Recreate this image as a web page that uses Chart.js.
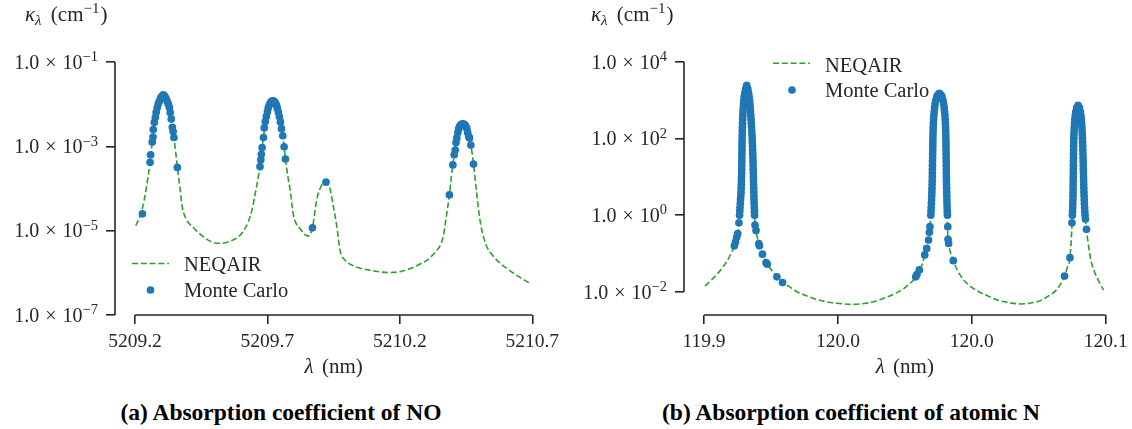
<!DOCTYPE html>
<html>
<head>
<meta charset="utf-8">
<script src="https://cdn.jsdelivr.net/npm/chart.js@4.4.1/dist/chart.umd.min.js"></script>
<style>
  html, body { margin: 0; padding: 0; background: #fff; }
  body { width: 1132px; height: 429px; position: relative; overflow: hidden; }
  canvas { position: absolute; top: 0; }
  .cap {
    position: absolute; top: 398px; width: 420px;
    font-family: "Liberation Serif", "Times New Roman", serif;
    font-weight: bold; font-size: 23.5px; line-height: 28px;
    text-align: center; color: #000; white-space: nowrap;
  }
</style>
</head>
<body>
<canvas id="chartNO" width="566" height="390" style="left:0"></canvas>
<canvas id="chartN" width="566" height="390" style="left:566px"></canvas>
<div class="cap" style="left:71px">(a) Absorption coefficient of NO</div>
<div class="cap" style="left:641px">(b) Absorption coefficient of atomic N</div>
<script>
/* ==============================
   Data: (a) NO
============================== */
const noXTicks = [5209.2, 5209.7, 5210.2, 5210.7];
const noYTicks = [1e-7, 1e-5, 1e-3, 1e-1];

const noNeqairLambda = [
  5209.203, 5209.219, 5209.234, 5209.245, 5209.257, 5209.264, 5209.269, 5209.276, 5209.283, 5209.291,
  5209.298, 5209.307, 5209.315, 5209.323, 5209.330, 5209.338, 5209.344, 5209.347, 5209.353, 5209.360,
  5209.370, 5209.378, 5209.393, 5209.419, 5209.457, 5209.491, 5209.525, 5209.559, 5209.589, 5209.608,
  5209.627, 5209.642, 5209.653, 5209.665, 5209.672, 5209.677, 5209.680, 5209.685, 5209.692, 5209.702,
  5209.711, 5209.720, 5209.730, 5209.739, 5209.749, 5209.758, 5209.763, 5209.768, 5209.778, 5209.785,
  5209.797, 5209.810, 5209.823, 5209.838, 5209.854, 5209.870, 5209.886, 5209.905, 5209.921, 5209.936,
  5209.949, 5209.962, 5209.974, 5209.993, 5210.023, 5210.050, 5210.106, 5210.155, 5210.201, 5210.239,
  5210.273, 5210.303, 5210.325, 5210.341, 5210.356, 5210.365, 5210.371, 5210.377, 5210.387, 5210.393,
  5210.400, 5210.405, 5210.409, 5210.415, 5210.424, 5210.434, 5210.441, 5210.451, 5210.460, 5210.468,
  5210.478, 5210.490, 5210.499, 5210.509, 5210.518, 5210.528, 5210.552, 5210.578, 5210.605, 5210.629,
  5210.662, 5210.692
];
const noNeqairK = [
  1.32e-5, 2.24e-5, 5.01e-5, 1.26e-4, 4.17e-4, 1.12e-3, 2.51e-3, 4.47e-3, 7.94e-3, 1.12e-2,
  1.45e-2, 1.66e-2, 1.45e-2, 1.12e-2, 7.94e-3, 3.98e-3, 2.40e-3, 1.62e-3, 7.94e-4, 3.16e-4,
  1.0e-4, 3.72e-5, 1.91e-5, 1.20e-5, 7.24e-6, 5.37e-6, 5.01e-6, 5.62e-6, 7.08e-6, 9.55e-6,
  1.58e-5, 3.16e-5, 7.08e-5, 1.78e-4, 3.31e-4, 6.46e-4, 9.33e-4, 1.62e-3, 3.89e-3, 7.41e-3,
  1.07e-2, 1.20e-2, 1.07e-2, 7.41e-3, 3.80e-3, 1.78e-3, 9.77e-4, 5.01e-4, 1.78e-4, 1.0e-4,
  2.57e-5, 1.41e-5, 1.12e-5, 8.32e-6, 7.41e-6, 1.17e-5, 5.37e-5, 1.20e-4, 1.41e-4, 1.0e-4,
  3.72e-5, 1.26e-5, 3.47e-6, 2.0e-6, 1.48e-6, 1.29e-6, 1.10e-6, 1.02e-6, 1.07e-6, 1.26e-6,
  1.58e-6, 2.0e-6, 2.69e-6, 3.47e-6, 5.01e-6, 7.94e-6, 1.41e-5, 2.51e-5, 7.08e-5, 1.58e-4,
  3.63e-4, 6.31e-4, 8.13e-4, 1.58e-3, 2.82e-3, 3.39e-3, 3.39e-3, 2.82e-3, 1.70e-3, 1.07e-3,
  3.80e-4, 7.76e-5, 2.51e-5, 1.05e-5, 6.31e-6, 4.17e-6, 2.51e-6, 1.70e-6, 1.26e-6, 9.77e-7,
  7.24e-7, 5.62e-7
];

const noMcLambda = [
  5209.228, 5209.257, 5209.259, 5209.265, 5209.268, 5209.269, 5209.273, 5209.277, 5209.280, 5209.284,
  5209.288, 5209.292, 5209.296, 5209.299, 5209.303, 5209.307, 5209.311, 5209.314, 5209.318, 5209.322,
  5209.326, 5209.330, 5209.333, 5209.337, 5209.341, 5209.344, 5209.347, 5209.360,
  5209.672, 5209.675, 5209.677, 5209.680, 5209.685, 5209.688, 5209.692, 5209.696, 5209.700, 5209.703,
  5209.707, 5209.711, 5209.715, 5209.719, 5209.722, 5209.726, 5209.730, 5209.734, 5209.737, 5209.741,
  5209.745, 5209.749, 5209.753, 5209.758, 5209.763, 5209.768,
  5209.870, 5209.921,
  5210.387, 5210.400, 5210.405, 5210.409, 5210.412, 5210.415, 5210.419, 5210.422, 5210.426, 5210.430,
  5210.434, 5210.438, 5210.441, 5210.445, 5210.449, 5210.453, 5210.456, 5210.460, 5210.463, 5210.468,
  5210.478
];
const noMcK = [
  2.51e-5, 4.17e-4, 6.31e-4, 1.26e-3, 1.66e-3, 2.51e-3, 3.72e-3, 4.90e-3, 6.46e-3, 8.32e-3,
  1.02e-2, 1.17e-2, 1.35e-2, 1.48e-2, 1.58e-2, 1.66e-2, 1.58e-2, 1.48e-2, 1.32e-2, 1.15e-2,
  1.0e-2, 8.32e-3, 6.31e-3, 4.47e-3, 2.82e-3, 2.24e-3, 1.62e-3, 3.16e-4,
  3.31e-4, 4.79e-4, 6.46e-4, 9.33e-4, 1.62e-3, 2.75e-3, 3.89e-3, 5.13e-3, 6.61e-3, 8.13e-3,
  9.55e-3, 1.07e-2, 1.15e-2, 1.20e-2, 1.20e-2, 1.15e-2, 1.07e-2, 9.55e-3, 8.13e-3, 6.61e-3,
  5.13e-3, 3.80e-3, 2.63e-3, 1.78e-3, 9.77e-4, 5.01e-4,
  1.17e-5, 1.41e-4,
  7.08e-5, 3.63e-4, 6.31e-4, 8.13e-4, 1.23e-3, 1.58e-3, 2.14e-3, 2.63e-3, 3.02e-3, 3.24e-3,
  3.39e-3, 3.39e-3, 3.39e-3, 3.24e-3, 3.02e-3, 2.63e-3, 2.14e-3, 1.70e-3, 1.58e-3, 1.07e-3,
  3.80e-4
];

/* ==============================
   Data: (b) atomic N
============================== */
const nXTicks = [119.9, 119.9667, 120.0333, 120.1];
const nYTicks = [1e-2, 1, 1e2, 1e4];

const nNeqairLambda = [
  119.9005, 119.9040, 119.9080, 119.9118, 119.9139, 119.9154, 119.9168, 119.9176, 119.9179, 119.9187,
  119.9190, 119.9193, 119.9198, 119.9204, 119.9213, 119.9221, 119.9227, 119.9233, 119.9240, 119.9246,
  119.9250, 119.9254, 119.9264, 119.9275, 119.9290, 119.9309, 119.9334, 119.9365, 119.9392, 119.9428,
  119.9463, 119.9508, 119.9553, 119.9607, 119.9662, 119.9745, 119.9807, 119.9846, 119.9901, 119.9954,
  119.9991, 120.0026, 120.0051, 120.0072, 120.0085, 120.0099, 120.0110, 120.0118, 120.0125, 120.0132,
  120.0137, 120.0140, 120.0144, 120.0150, 120.0160, 120.0172, 120.0184, 120.0194, 120.0200, 120.0203,
  120.0206, 120.0210, 120.0213, 120.0218, 120.0227, 120.0241, 120.0260, 120.0281, 120.0314, 120.0354,
  120.0409, 120.0463, 120.0524, 120.0581, 120.0633, 120.0681, 120.0718, 120.0754, 120.0777, 120.0795,
  120.0810, 120.0822, 120.0830, 120.0834, 120.0838, 120.0841, 120.0845, 120.0851, 120.0863, 120.0874,
  120.0881, 120.0886, 120.0890, 120.0894, 120.0898, 120.0904, 120.0912, 120.0926, 120.0942, 120.0962,
  120.0990
];
const nNeqairK = [
  1.41e-2, 2.09e-2, 3.55e-2, 6.76e-2, 0.112, 0.166, 0.331, 0.794, 2.0, 10,
  100, 398, 1000, 1778, 2455, 1778, 1000, 398, 100, 10,
  1.58, 0.550, 0.282, 0.174, 0.1, 6.03e-2, 3.80e-2, 2.45e-2, 1.78e-2, 1.32e-2,
  1.0e-2, 7.94e-3, 6.46e-3, 5.50e-3, 5.01e-3, 4.68e-3, 5.01e-3, 5.50e-3, 6.92e-3, 9.12e-3,
  1.17e-2, 1.66e-2, 2.24e-2, 3.47e-2, 5.01e-2, 8.71e-2, 0.141, 0.224, 0.501, 2.0,
  10, 100, 316, 794, 1259, 1514, 1259, 794, 316, 100,
  10, 2.0, 0.398, 0.182, 0.107, 6.46e-2, 3.80e-2, 2.45e-2, 1.58e-2, 1.10e-2,
  7.94e-3, 6.03e-3, 5.13e-3, 4.79e-3, 5.13e-3, 6.03e-3, 7.94e-3, 1.10e-2, 1.66e-2, 2.57e-2,
  4.47e-2, 7.76e-2, 0.316, 1.0, 10, 100, 251, 501, 741, 501,
  251, 100, 10, 2.0, 1.0, 0.427, 0.2, 6.76e-2, 3.55e-2, 2.04e-2,
  1.10e-2
];

const nMcLambda = [
  // first line, lower left
  119.9151, 119.9157, 119.9163, 119.9168, 119.9174,
  // first line, rising side
  119.91772, 119.91782, 119.91792, 119.91807, 119.91817, 119.91832, 119.91842, 119.91852, 119.91857, 119.91862,
  119.91867, 119.91872, 119.91877, 119.91880, 119.91882, 119.91885, 119.91887, 119.91890, 119.91892, 119.91894,
  119.91897, 119.91902, 119.91907, 119.91912, 119.91917, 119.91924, 119.91932, 119.91942, 119.91952, 119.91967,
  119.91982, 119.92006, 119.92036, 119.92071, 119.92126,
  // first line, falling side
  119.92181, 119.92216, 119.92245, 119.92270, 119.92288, 119.92300, 119.92315, 119.92330, 119.92343, 119.92355,
  119.92367, 119.92380, 119.92390, 119.92400, 119.92407, 119.92415, 119.92422, 119.92430, 119.92435, 119.92440,
  119.92445, 119.92450, 119.92455, 119.92460, 119.92465, 119.92470, 119.92474, 119.92479, 119.92484, 119.92489,
  119.92497, 119.92504, 119.92512, 119.92519,
  // first line, lower right
  119.9254, 119.9259, 119.9273, 119.9276, 119.9291, 119.9309, 119.9315, 119.9363, 119.9391,
  // second line, lower left
  120.0054, 120.0060, 120.0072, 120.0099, 120.0109, 120.0118, 120.0122, 120.0125,
  // second line, rising side
  120.01292, 120.01302, 120.01312, 120.01322, 120.01332, 120.01339, 120.01347, 120.01352, 120.01357, 120.01362,
  120.01367, 120.01369, 120.01372, 120.01374, 120.01377, 120.01382, 120.01384, 120.01387, 120.01392, 120.01394,
  120.01397, 120.01402, 120.01406, 120.01414, 120.01421, 120.01431, 120.01444, 120.01461, 120.01481, 120.01506,
  120.01541, 120.01596, 120.01655, 120.01720,
  // second line, falling side
  120.01785, 120.01845, 120.01899, 120.01934, 120.01959, 120.01979, 120.01996, 120.02009, 120.02019, 120.02026,
  120.02034, 120.02039, 120.02044, 120.02046, 120.02049, 120.02051, 120.02054, 120.02056, 120.02059, 120.02061,
  120.02064, 120.02066, 120.02069, 120.02071, 120.02074, 120.02079, 120.02084, 120.02089, 120.02094, 120.02099,
  120.02104, 120.02111, 120.02118, 120.02138,
  // second line, lower right
  120.0215, 120.0218, 120.0241,
  // third line, lower left
  120.0795, 120.0822, 120.0832,
  // third line, rising side
  120.08342, 120.08349, 120.08357, 120.08362, 120.08367, 120.08372, 120.08374, 120.08377, 120.08379, 120.08382,
  120.08384, 120.08387, 120.08389, 120.08392, 120.08394, 120.08397, 120.08399, 120.08402, 120.08404, 120.08407,
  120.08412, 120.08419, 120.08427, 120.08437, 120.08449, 120.08464, 120.08484, 120.08511, 120.08556, 120.08626,
  // third line, falling side
  120.08695, 120.08740, 120.08768, 120.08788, 120.08802, 120.08815, 120.08825, 120.08835, 120.08842, 120.08850,
  120.08857, 120.08862, 120.08867, 120.08872, 120.08877, 120.08882, 120.08887, 120.08892, 120.08897, 120.08902,
  120.08907, 120.08912, 120.08917, 120.08924, 120.08932, 120.08939, 120.08949, 120.08959, 120.08974, 120.08989,
  // third line, lower right
  120.0904
];
const nMcK = [
  0.158, 0.2, 0.269, 0.331, 0.631,
  1.0, 1.26, 1.58, 2.0, 2.51, 3.16, 3.98, 5.01, 6.31, 7.94,
  10, 12.6, 15.8, 20.0, 25.1, 31.6, 39.8, 50.1, 63.1, 79.4,
  100, 126, 158, 200, 251, 316, 398, 501, 631, 794,
  1000, 1259, 1585, 1995, 2455,
  1995, 1585, 1259, 1000, 794, 631, 501, 398, 316, 251,
  200, 158, 126, 100, 79.4, 63.1, 50.1, 39.8, 31.6, 25.1,
  20.0, 15.8, 12.6, 10, 7.94, 6.31, 5.01, 3.98, 3.16, 2.51,
  2.0, 1.58, 1.26, 1.0,
  0.55, 0.398, 0.182, 0.158, 0.0955, 0.0575, 0.0525, 0.0245, 0.0174,
  0.0245, 0.0282, 0.0372, 0.0912, 0.135, 0.224, 0.355, 0.501,
  1.0, 1.26, 1.58, 2.0, 2.51, 3.16, 3.98, 5.01, 6.31, 7.94,
  10, 12.6, 15.8, 20.0, 25.1, 31.6, 39.8, 50.1, 63.1, 79.4,
  100, 126, 158, 200, 251, 316, 398, 501, 631, 794,
  1000, 1259, 1413, 1514,
  1413, 1259, 1000, 794, 631, 501, 398, 316, 251, 200,
  158, 126, 100, 79.4, 63.1, 50.1, 39.8, 31.6, 25.1, 20.0,
  15.8, 12.6, 10, 7.94, 6.31, 5.01, 3.98, 3.16, 2.51, 2.0,
  1.58, 1.26, 1.0, 0.501,
  0.234, 0.182, 0.0646,
  0.0257, 0.0776, 0.631,
  1.0, 1.26, 1.58, 2.0, 2.51, 3.16, 3.98, 5.01, 6.31, 7.94,
  10, 12.6, 15.8, 20.0, 25.1, 31.6, 39.8, 50.1, 63.1, 79.4,
  100, 126, 158, 200, 251, 316, 398, 501, 631, 741,
  631, 501, 398, 316, 251, 200, 158, 126, 100, 79.4,
  63.1, 50.1, 39.8, 31.6, 25.1, 20.0, 15.8, 12.6, 10, 7.94,
  6.31, 5.01, 3.98, 3.16, 2.51, 2.0, 1.58, 1.26, 1.0, 0.794,
  0.427
];

/* ==============================
   Style
============================== */
const SERIF = '"Liberation Serif", "Times New Roman", serif';
const INK = '#262626';
const GREEN = '#2ca02c';
const BLUE = '#1f77b4';
const DASH = [6, 2.8];
const DOT_R = 3.85;

/* ==============================
   Helpers
============================== */
function toPoints(xs, ys) {
    return xs.map((x, i) => ({ x, y: ys[i] }));
}

function fontOf(r) {
    return `${r.italic ? 'italic ' : ''}${r.size || 20}px ${SERIF}`;
}

// draw a row of text pieces (for sub/superscripts)
function drawRuns(ctx, runs, x, y, align) {
    let total = 0;
    runs.forEach(r => {
        ctx.font = fontOf(r);
        r.w = ctx.measureText(r.t).width + (r.padL || 0) + (r.padR || 0);
        total += r.w;
    });
    let cx = align === 'right' ? x - total : align === 'center' ? x - total / 2 : x;
    runs.forEach(r => {
        ctx.font = fontOf(r);
        ctx.fillText(r.t, cx + (r.padL || 0), y + (r.dy || 0));
        cx += r.w;
    });
}

function expText(v) {
    const e = Math.round(Math.log10(v));
    return (e < 0 ? '\u2212' : '') + Math.abs(e);
}

/* ==============================
   Axis / legend decoration
============================== */
function decoPlugin(cfg) {
    return {
        id: 'deco',
        afterDraw(chart) {
            const { ctx, chartArea } = chart;
            const xs = chart.scales.x, ys = chart.scales.y;
            const x0 = xs.getPixelForValue(cfg.xTicks[0]);
            const x1 = xs.getPixelForValue(cfg.xTicks[cfg.xTicks.length - 1]);
            const y0 = ys.getPixelForValue(cfg.yTicks[0]);
            const y1 = ys.getPixelForValue(cfg.yTicks[cfg.yTicks.length - 1]);

            ctx.save();
            // trimmed spines
            ctx.strokeStyle = INK;
            ctx.lineWidth = 1.6;
            ctx.beginPath();
            ctx.moveTo(x0, chartArea.bottom); ctx.lineTo(x1, chartArea.bottom);
            ctx.moveTo(chartArea.left, y0); ctx.lineTo(chartArea.left, y1);
            ctx.stroke();

            ctx.fillStyle = INK;
            ctx.textAlign = 'left';
            ctx.textBaseline = 'alphabetic';

            // y tick labels  1.0 x 10^n
            cfg.yTicks.forEach(v => {
                const py = ys.getPixelForValue(v);
                drawRuns(ctx, [
                    { t: '1.0' },
                    { t: '\u00d7', padL: 6, padR: 6 },
                    { t: '10' },
                    { t: expText(v), size: 14.5, dy: -7.5 }
                ], chartArea.left - 17, py + 6.8, 'right');
            });

            // x tick labels
            cfg.xTicks.forEach(v => {
                drawRuns(ctx, [{ t: v.toFixed(1), size: 19.5 }], xs.getPixelForValue(v), 347, 'center');
            });

            // axis titles
            drawRuns(ctx, [
                { t: '\u03bb', italic: true, size: 21 },
                { t: ' (nm)', size: 21, padL: 3 }
            ], (x0 + x1) / 2, 373, 'center');
            drawRuns(ctx, [
                { t: '\u03ba', italic: true, size: 21 },
                { t: '\u03bb', italic: true, size: 15, dy: 4 },
                { t: ' (cm', size: 21, padL: 4 },
                { t: '\u22121', size: 15, dy: -8.5 },
                { t: ')', size: 21, padL: 1 }
            ], 25, 21, 'left');

            // legend
            const lg = cfg.legend;
            ctx.strokeStyle = GREEN;
            ctx.lineWidth = 1.6;
            ctx.setLineDash(DASH);
            ctx.beginPath();
            ctx.moveTo(lg.lineX, lg.lineY); ctx.lineTo(lg.lineX + 37, lg.lineY);
            ctx.stroke();
            ctx.setLineDash([]);
            ctx.fillStyle = BLUE;
            ctx.beginPath();
            ctx.arc(lg.dotX, lg.dotY, DOT_R, 0, Math.PI * 2);
            ctx.fill();
            ctx.fillStyle = INK;
            drawRuns(ctx, [{ t: 'NEQAIR', size: 20.5 }], lg.textX, lg.base1, 'left');
            drawRuns(ctx, [{ t: 'Monte Carlo', size: 20.5 }], lg.textX, lg.base2, 'left');
            ctx.restore();
        }
    };
}

/* ==============================
   Chart builder
============================== */
function makeChart(id, cfg) {
    const tickGrid = {
        display: true, drawOnChartArea: false, drawTicks: true,
        tickLength: 9, color: INK, lineWidth: 1.6
    };
    return new Chart(document.getElementById(id), {
        type: 'scatter',
        data: {
            datasets: [
                {
                    label: 'Monte Carlo',
                    data: toPoints(cfg.mcX, cfg.mcY),
                    pointRadius: DOT_R,
                    backgroundColor: BLUE,
                    borderWidth: 0,
                    order: 0
                },
                {
                    label: 'NEQAIR',
                    data: toPoints(cfg.lineX, cfg.lineY),
                    showLine: true,
                    borderColor: GREEN,
                    borderWidth: 1.6,
                    borderDash: DASH,
                    pointRadius: 0,
                    cubicInterpolationMode: 'monotone',
                    order: 1
                }
            ]
        },
        options: {
            responsive: false,
            animation: false,
            events: [],
            layout: { padding: { left: 0, top: 62, right: cfg.padRight, bottom: 0 } },
            plugins: { legend: { display: false }, tooltip: { enabled: false } },
            scales: {
                x: {
                    type: 'linear', min: cfg.xMin, max: cfg.xMax,
                    afterBuildTicks: s => { s.ticks = cfg.xTicks.map(v => ({ value: v })); },
                    afterFit: s => { s.height = 75; },
                    ticks: { display: false },
                    grid: tickGrid,
                    border: { display: false }
                },
                y: {
                    type: 'logarithmic', min: cfg.yMin, max: cfg.yMax,
                    afterBuildTicks: s => { s.ticks = cfg.yTicks.map(v => ({ value: v })); },
                    afterFit: s => { s.width = cfg.axisLeft; },
                    ticks: { display: false },
                    grid: tickGrid,
                    border: { display: false }
                }
            }
        },
        plugins: [decoPlugin(cfg)]
    });
}

makeChart('chartNO', {
    lineX: noNeqairLambda, lineY: noNeqairK, mcX: noMcLambda, mcY: noMcK,
    xTicks: noXTicks, yTicks: noYTicks,
    xMin: 5209.1245, xMax: 5210.7, yMin: 1e-7, yMax: 1e-1,
    axisLeft: 115, padRight: 33.7,
    legend: { lineX: 132, lineY: 263.5, dotX: 150.5, dotY: 290, textX: 184, base1: 270.7, base2: 296.7 }
});

makeChart('chartN', {
    lineX: nNeqairLambda, lineY: nNeqairK, mcX: nMcLambda, mcY: nMcK,
    xTicks: nXTicks, yTicks: nYTicks,
    xMin: 119.89004, xMax: 120.1, yMin: 0.002466, yMax: 1e4,
    axisLeft: 118, padRight: 26.3,
    legend: { lineX: 207, lineY: 63.3, dotX: 226, dotY: 90, textX: 259, base1: 71.7, base2: 96.7 }
});
</script>
</body>
</html>
